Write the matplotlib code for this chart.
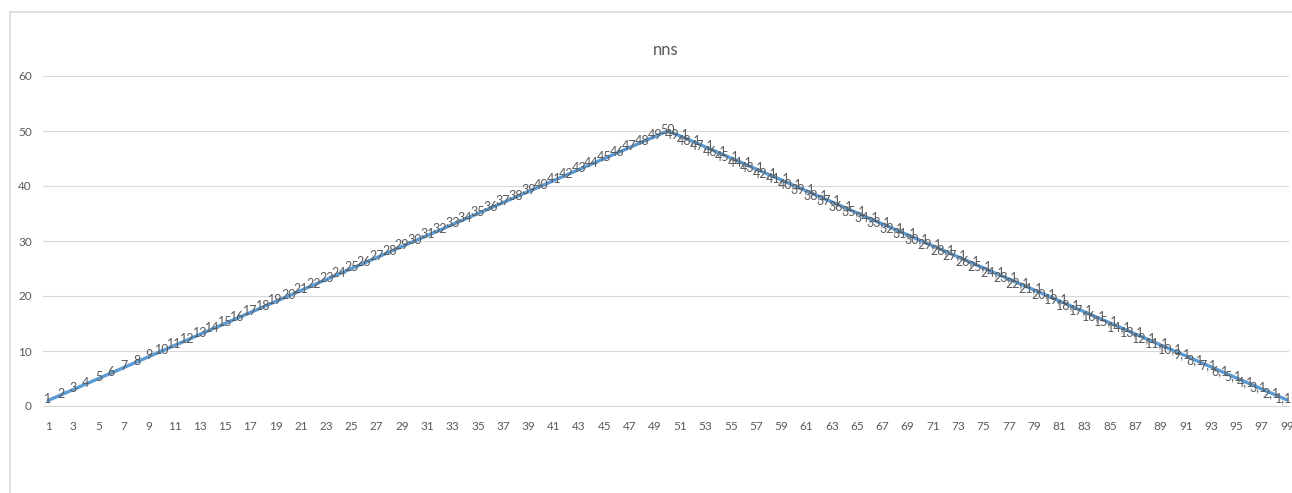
import matplotlib
matplotlib.use("Agg")
import matplotlib.pyplot as plt
from matplotlib.lines import Line2D

# category axis 1..99
categories = list(range(1, 100))

# series "nns" - rising half then falling half
rising = [1, 2, 3, 4, 5, 6, 7, 8, 9, 10, 11, 12, 13, 14, 15, 16, 17, 18, 19, 20,
          21, 22, 23, 24, 25, 26, 27, 28, 29, 30, 31, 32, 33, 34, 35, 36, 37, 38, 39, 40,
          41, 42, 43, 44, 45, 46, 47, 48, 49, 50]
falling = [49.1, 48.1, 47.1, 46.1, 45.1, 44.1, 43.1, 42.1, 41.1, 40.1,
           39.1, 38.1, 37.1, 36.1, 35.1, 34.1, 33.1, 32.1, 31.1, 30.1,
           29.1, 28.1, 27.1, 26.1, 25.1, 24.1, 23.1, 22.1, 21.1, 20.1,
           19.1, 18.1, 17.1, 16.1, 15.1, 14.1, 13.1, 12.1, 11.1, 10.1,
           9.1, 8.1, 7.1, 6.1, 5.1, 4.1, 3.1, 2.1, 1.1]
values = rising + falling

xtick_labels = list(range(1, 100, 2))
ytick_values = [0, 10, 20, 30, 40, 50, 60]

TEXT = "#595959"
GRID = "#d9d9d9"
BLUE = "#5b9bd5"

plt.rcParams["font.family"] = ["Lato", "DejaVu Sans"]

fig = plt.figure(figsize=(12.92, 4.93), dpi=100)
ax = fig.add_axes([43 / 1292, 1 - 406 / 493, (1289 - 43) / 1292, 330 / 493])

ax.plot(categories, values, color=BLUE, linewidth=2.4, solid_capstyle="round", zorder=3)

# data labels, decimal comma like the original
for x, v in zip(categories, values):
    txt = ("%g" % v).replace(".", ",")
    dx = 0 if "," not in txt else -2.5
    ax.annotate(txt, (x, v), xytext=(dx, 1), textcoords="offset points",
                ha="center", va="center", fontsize=9, color=TEXT, zorder=4)

ax.set_xlim(0.6, 99.16)
ax.set_ylim(0, 60)
ax.set_yticks(ytick_values)
ax.set_xticks(xtick_labels)
ax.set_xticklabels([str(t) for t in xtick_labels])
ax.tick_params(axis="both", length=0, labelsize=8.5, labelcolor=TEXT)
ax.tick_params(axis="x", pad=11)
ax.tick_params(axis="y", pad=8)
ax.grid(axis="y", color=GRID, linewidth=0.8)
for s in ["top", "right", "left"]:
    ax.spines[s].set_visible(False)
ax.spines["bottom"].set_color(GRID)
ax.spines["bottom"].set_linewidth(0.8)

ax.set_title("nns", fontsize=12, color=TEXT, pad=15)

# outer chart border (only top and left visible in the crop)
fig.add_artist(Line2D([9.5 / 1292, 9.5 / 1292], [0, 1 - 12 / 493], transform=fig.transFigure,
                      color=GRID, linewidth=1.2))
fig.add_artist(Line2D([9.5 / 1292, 1], [1 - 12 / 493, 1 - 12 / 493], transform=fig.transFigure,
                      color=GRID, linewidth=1.2))

fig.savefig("out.png", dpi=100, facecolor="white")
